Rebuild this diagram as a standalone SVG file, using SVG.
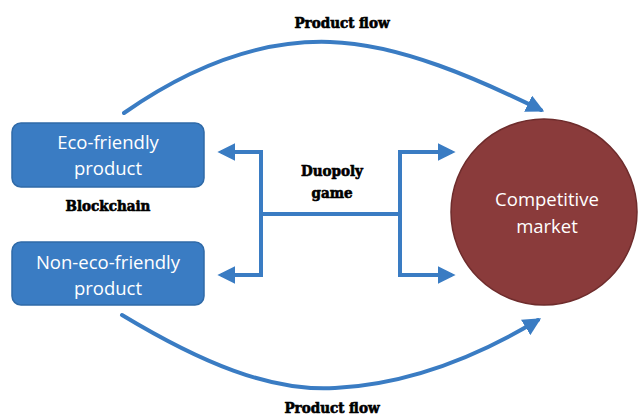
<svg xmlns="http://www.w3.org/2000/svg" width="641" height="416" viewBox="0 0 641 416">
<style>
.box{fill:#3a7cc3;stroke:#2f6aa8;stroke-width:1.5}
.wt{font-family:"Open Sans","Liberation Sans",sans-serif;font-size:18.5px;fill:#fff;text-anchor:middle}
.bk{font-family:"DejaVu Serif Condensed","Liberation Serif",serif;font-weight:bold;font-size:15px;fill:#000;stroke:#000;stroke-width:0.6;text-anchor:middle}
.ln{fill:none;stroke:#3a7cc3;stroke-width:4}
.cv{fill:none;stroke:#3a7cc3;stroke-width:4;stroke-linecap:round}
</style>
<defs>
<marker id="ah" viewBox="0 0 10 10" refX="8" refY="5" markerWidth="4.5" markerHeight="4.5" orient="auto" markerUnits="strokeWidth">
<path d="M0,0 L10,5 L0,10 z" fill="#3a7cc3"/>
</marker>
</defs>
<g id="connectors">
<path class="cv" d="M124,113 C200,60 270,40 330,42 C400,44 480,80 541,110" marker-end="url(#ah)"/>
<path class="cv" d="M122,315 C200,362 270,392 335,388 C410,384 480,355 538,320" marker-end="url(#ah)"/>
<path class="ln" d="M261,152 L221,152" marker-end="url(#ah)"/>
<path class="ln" d="M261,275 L221,275" marker-end="url(#ah)"/>
<path class="ln" d="M261,150 L261,277"/>
<path class="ln" d="M261,214 L400,214"/>
<path class="ln" d="M400,150 L400,277"/>
<path class="ln" d="M400,152 L452,152" marker-end="url(#ah)"/>
<path class="ln" d="M400,275 L452,275" marker-end="url(#ah)"/>
</g>
<g id="eco">
<rect class="box" x="12" y="123" width="192" height="64" rx="9"/>
<text class="wt" x="108" y="149">Eco-friendly</text>
<text class="wt" x="108" y="175">product</text>
</g>
<g id="noneco">
<rect class="box" x="12" y="242" width="192" height="63" rx="9"/>
<text class="wt" x="108" y="269">Non-eco-friendly</text>
<text class="wt" x="108" y="295">product</text>
</g>
<g id="market">
<circle cx="544" cy="212" r="93" fill="#8a3b3b" stroke="#6e2c2c" stroke-width="1.5"/>
<text class="wt" x="547" y="206">Competitive</text>
<text class="wt" x="547" y="233">market</text>
</g>
<g id="labels">
<text class="bk" x="342" y="28">Product flow</text>
<text class="bk" x="108" y="211">Blockchain</text>
<text class="bk" x="332" y="176">Duopoly</text>
<text class="bk" x="332" y="198">game</text>
<text class="bk" x="332" y="413">Product flow</text>
</g>
</svg>
